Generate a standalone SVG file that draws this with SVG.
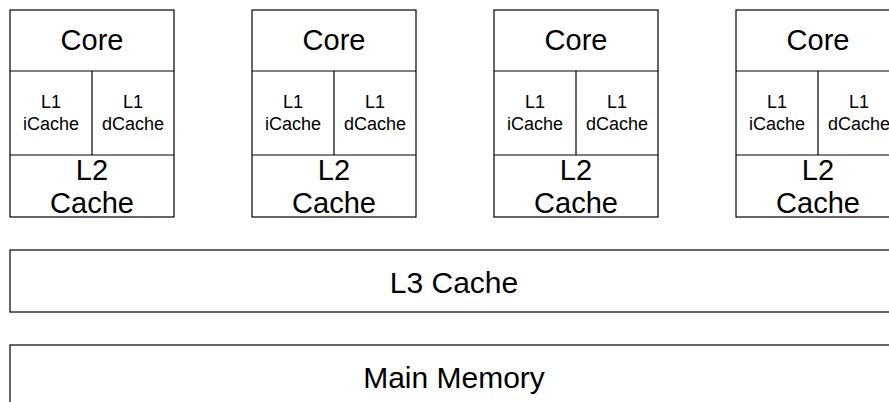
<svg xmlns="http://www.w3.org/2000/svg" width="889" height="402" viewBox="0 0 889 402">
<style>
.box{fill:#fff;stroke:#000;stroke-width:1.2}
.ln{stroke:#000;stroke-width:1.2;fill:none}
text{font-family:"Liberation Sans",Arial,sans-serif;fill:#000;text-anchor:middle}
.big{font-size:29px}
.wide{font-size:30px}
.sm{font-size:18px}
</style>
<defs>
<g id="core">
<rect class="box" x="0" y="0" width="164" height="207"/>
<line class="ln" x1="0" y1="61" x2="164" y2="61"/>
<line class="ln" x1="0" y1="145" x2="164" y2="145"/>
<line class="ln" x1="82" y1="61" x2="82" y2="145"/>
<text class="big" x="82" y="40">Core</text>
<text class="sm" x="41" y="98">L1</text>
<text class="sm" x="41" y="120">iCache</text>
<text class="sm" x="123" y="98">L1</text>
<text class="sm" x="123" y="120">dCache</text>
<text class="big" x="82" y="170">L2</text>
<text class="big" x="82" y="203">Cache</text>
</g>
</defs>
<rect width="889" height="402" fill="#fff"/>
<g id="core1"><use href="#core" x="10" y="10"/></g>
<g id="core2"><use href="#core" x="252" y="10"/></g>
<g id="core3"><use href="#core" x="494" y="10"/></g>
<g id="core4"><use href="#core" x="736" y="10"/></g>
<g id="l3">
<rect class="box" x="10" y="250" width="888" height="62"/>
<text class="wide" x="454" y="293">L3 Cache</text>
</g>
<g id="mem">
<rect class="box" x="10" y="345" width="888" height="62"/>
<text class="wide" x="454" y="388">Main Memory</text>
</g>
<g id="connectors"></g>
</svg>
